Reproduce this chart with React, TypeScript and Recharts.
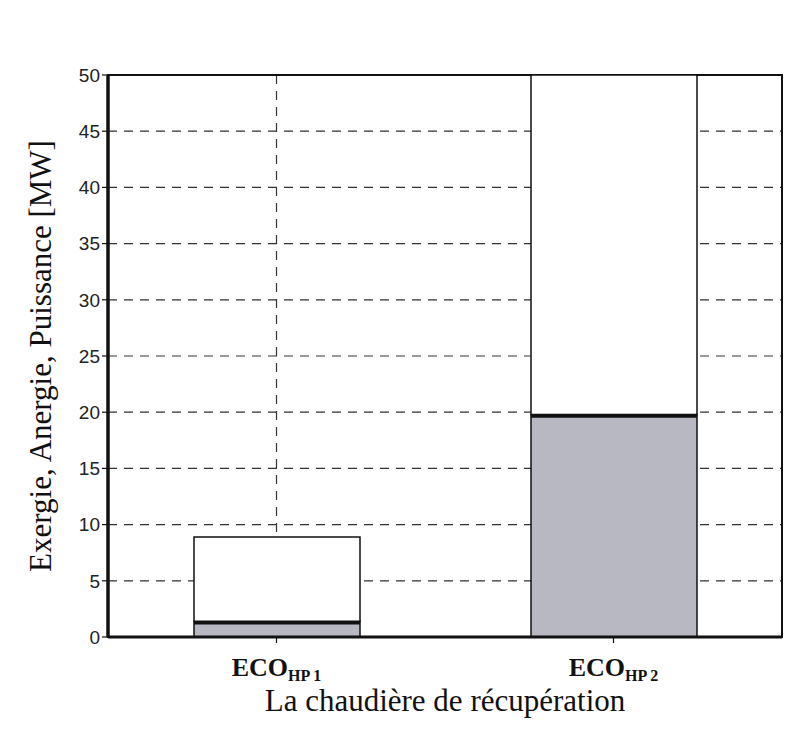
import { BarChart, Bar, XAxis, YAxis, CartesianGrid, ReferenceArea } from 'recharts'

const categories = ['1', '2']
const exergie = [1.4, 19.8]
const anergie = [7.5, 30.2]
const yTicks = [0, 5, 10, 15, 20, 25, 30, 35, 40, 45, 50]

const chartData = categories.map((c, i) => ({
  name: c,
  exergie: exergie[i],
  anergie: anergie[i],
}))

const serif = '"Liberation Serif", "Times New Roman", serif'
const sans = '"Liberation Sans", Arial, sans-serif'

// gray lower block with a heavy line on its top edge
const LowerBar = (props: any) => {
  const { x, y, width, height } = props
  return (
    <g>
      <rect x={x} y={y} width={width} height={height} fill="#b7b8c1" stroke="#111" strokeWidth={1.5} />
      <line x1={x} x2={x + width} y1={y + 1.5} y2={y + 1.5} stroke="#111" strokeWidth={3.5} />
    </g>
  )
}

const EcoTick = (props: any) => {
  const { x, y, payload } = props
  return (
    <text x={x} y={y + 31} textAnchor="middle" fontFamily={serif} fontWeight="bold" fill="#111">
      <tspan fontSize={26}>ECO</tspan>
      <tspan fontSize={16} dy={5}>{`HP ${payload.value}`}</tspan>
    </text>
  )
}

export default function App() {
  return (
    <div style={{ position: 'absolute', left: 0, top: 0, width: 794, height: 733, background: '#fff' }}>
      <BarChart
        width={794}
        height={733}
        data={chartData}
        margin={{ top: 75, right: 12, left: 0, bottom: 16 }}
      >
        <CartesianGrid stroke="#333" strokeDasharray="9 7" strokeWidth={1.2} />
        <ReferenceArea y1={0} y2={50} fill="none" stroke="#111" strokeWidth={2} ifOverflow="visible" />
        <XAxis
          dataKey="name"
          height={80}
          axisLine={{ stroke: '#111', strokeWidth: 3 }}
          tickLine={{ stroke: '#111', strokeWidth: 1.2 }}
          tickSize={6}
          tick={<EcoTick />}
          label={{
            value: 'La chaudière de récupération',
            position: 'insideBottom',
            offset: 6,
            style: { fontFamily: serif, fontSize: 31, fill: '#111' },
          }}
        />
        <YAxis
          domain={[0, 50]}
          ticks={yTicks}
          width={108}
          interval={0}
          axisLine={{ stroke: '#111', strokeWidth: 3.5 }}
          tickLine={{ stroke: '#111', strokeWidth: 1.2 }}
          tickSize={6}
          tick={{ fontFamily: sans, fontSize: 19, fill: '#222' }}
          label={{
            value: 'Exergie, Anergie, Puissance [MW]',
            angle: -90,
            position: 'insideLeft',
            offset: 40,
            style: { fontFamily: serif, fontSize: 31, fill: '#111', textAnchor: 'middle' },
          }}
        />
        <Bar
          dataKey="exergie"
          stackId="a"
          barSize={166}
          shape={<LowerBar />}
          isAnimationActive={false}
        />
        <Bar
          dataKey="anergie"
          stackId="a"
          barSize={166}
          fill="#fff"
          stroke="#111"
          strokeWidth={1.5}
          isAnimationActive={false}
        />
      </BarChart>
    </div>
  )
}
